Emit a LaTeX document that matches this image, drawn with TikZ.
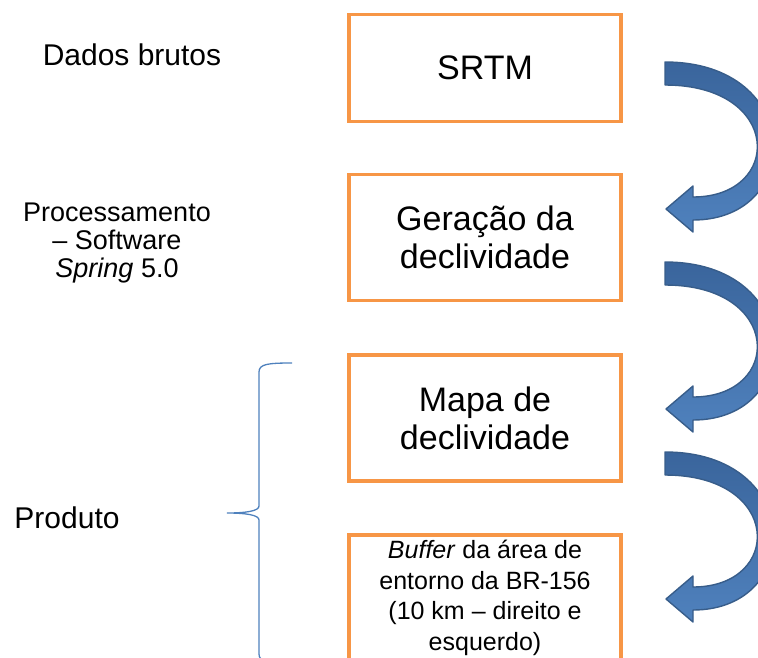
\documentclass[tikz,border=0pt]{standalone}
\usepackage{fontspec}
\setmainfont{Liberation Sans}
\usetikzlibrary{positioning}
\definecolor{boxorange}{HTML}{F79646}
\definecolor{arrowdark}{HTML}{3A659C}
\definecolor{arrowlight}{HTML}{4F81BD}
\definecolor{arrowline}{HTML}{385D8A}
\definecolor{bracecol}{HTML}{4F81BD}
\tikzset{
 procbox/.style={draw=boxorange,line width=3.2pt,minimum width=272pt,minimum height=126pt,
   inner sep=0pt,align=center,font=\fontsize{34}{38}\selectfont},
 sidelabel/.style={align=center,font=\fontsize{30}{32}\selectfont},
 bendarrow/.style={draw=arrowline,line width=1.4pt,line join=round,top color=arrowdark,bottom color=arrowlight}
}

\begin{document}
\begin{tikzpicture}[x=1pt,y=-1pt,on grid]
 \path[use as bounding box,clip] (0,0) rectangle (758,657);
 \node[procbox,minimum height=107pt] (srtm) at (485,68) {SRTM};
 \node[procbox] (geracao) [below=169.5pt of srtm] {Geração da\\declividade};
 \node[procbox] (mapa) [below=180.5pt of geracao] {Mapa de\\declividade};
 \node[procbox,font=\fontsize{25}{30.5}\selectfont] (buffer) [below=180pt of mapa]
   {\textit{Buffer} da área de\\entorno da BR-156\\(10 km – direito e\\esquerdo)};
 \node[sidelabel] (dados) at (132,55) {Dados brutos};
 \node[sidelabel,font=\fontsize{27}{28}\selectfont] (proc) at (117,243)
   {Processamento\\– Software\\\textit{Spring} 5.0};
 \node[sidelabel] (produto) at (67,518) {Produto};
 \foreach \dy in {0,200,390}
  \path[bendarrow,shift={(0,\dy)}] (665,62) .. controls (805,62) and (805,220) .. (693,220)
   -- (693,232) -- (666,209) -- (693,186) -- (693,197)
   .. controls (783,197) and (783,85) .. (665,85) -- cycle;
 \coordinate (bracetip) at (227,513);
 \draw[bracecol,line width=1.3pt] (292,363) .. controls (268,363) and (259,364) .. (259,372)
   -- (259,506) .. controls (259,511) and (246,513) .. (bracetip)
   .. controls (246,513) and (259,515) .. (259,520)
   -- (259,654) .. controls (259,662) and (268,663) .. (292,663);
\end{tikzpicture}
\end{document}
